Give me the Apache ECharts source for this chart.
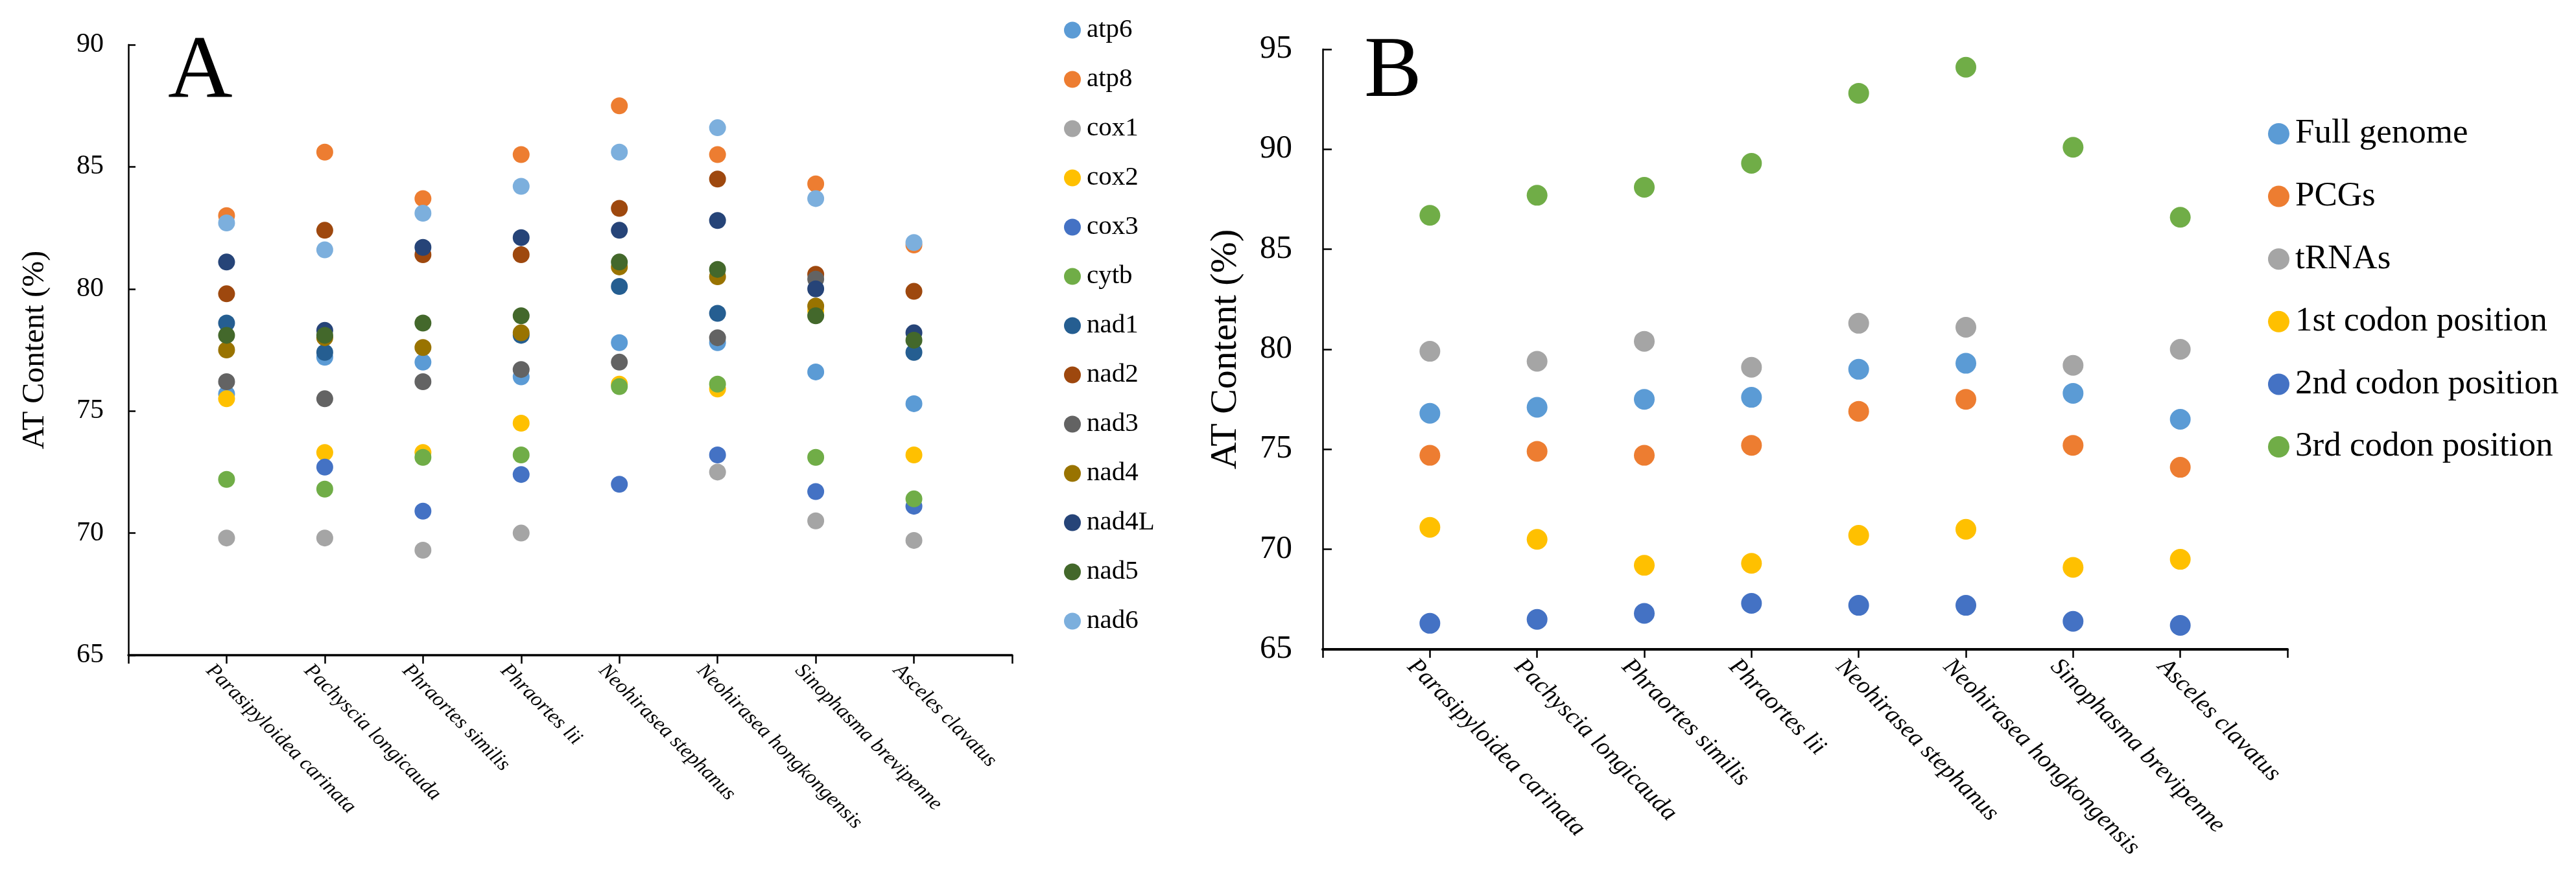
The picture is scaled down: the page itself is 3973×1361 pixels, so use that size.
<!DOCTYPE html>
<html>
<head>
<meta charset="utf-8">
<style>
html,body{margin:0;padding:0;background:#fff;}
#c{width:3973px;height:1361px;}
</style>
<script src="https://cdn.jsdelivr.net/npm/echarts@6/dist/echarts.min.js"></script>
</head>
<body>
<div id="c"></div>
<script>
// ---------- data ----------
const species = ['Parasipyloidea carinata','Pachyscia longicauda','Phraortes similis','Phraortes lii','Neohirasea stephanus','Neohirasea hongkongensis','Sinophasma brevipenne','Asceles clavatus'];

// Panel A: AT content of each gene (null = point not visible in the figure)
const genesA = ['atp6','atp8','cox1','cox2','cox3','cytb','nad1','nad2','nad3','nad4','nad4L','nad5','nad6'];
const atp6  = [75.7, 77.2, 77.0, 76.4, 77.8, 77.8, 76.6, 75.3];
const atp8  = [83.0, 85.6, 83.7, 85.5, 87.5, 85.5, 84.3, 81.8];
const cox1  = [69.8, 69.8, 69.3, 70.0, null, 72.5, 70.5, 69.7];
const cox2  = [75.5, 73.3, 73.3, 74.5, 76.1, 75.9, 79.1, 73.2];
const cox3  = [null, 72.7, 70.9, 72.4, 72.0, 73.2, 71.7, 71.1];
const cytb  = [72.2, 71.8, 73.1, 73.2, 76.0, 76.1, 73.1, 71.4];
const nad1  = [78.6, 77.4, null, 78.1, 80.1, 79.0, null, 77.4];
const nad2  = [79.8, 82.4, 81.4, 81.4, 83.3, 84.5, 80.6, 79.9];
const nad3  = [76.2, 75.5, 76.2, 76.7, 77.0, 78.0, 80.4, null];
const nad4  = [77.5, 78.0, 77.6, 78.2, 80.9, 80.5, 79.3, null];
const nad4L = [81.1, 78.3, 81.7, 82.1, 82.4, 82.8, 80.0, 78.2];
const nad5  = [78.1, 78.1, 78.6, 78.9, 81.1, 80.8, 78.9, 77.9];
const nad6  = [82.7, 81.6, 83.1, 84.2, 85.6, 86.6, 83.7, 81.9];
const valuesA = [atp6, atp8, cox1, cox2, cox3, cytb, nad1, nad2, nad3, nad4, nad4L, nad5, nad6];
const colorsA = ['#5B9BD5','#ED7D31','#A5A5A5','#FFC000','#4472C4','#70AD47','#255E91','#9E480E','#636363','#997300','#264478','#43682B','#7CAFDD'];

// Panel B: AT content of genome regions
const regionsB = ['Full genome','PCGs','tRNAs','1st codon position','2nd codon position','3rd codon position'];
const fullGenome = [76.8, 77.1, 77.5, 77.6, 79.0, 79.3, 77.8, 76.5];
const pcgs       = [74.7, 74.9, 74.7, 75.2, 76.9, 77.5, 75.2, 74.1];
const trnas      = [79.9, 79.4, 80.4, 79.1, 81.3, 81.1, 79.2, 80.0];
const codon1     = [71.1, 70.5, 69.2, 69.3, 70.7, 71.0, 69.1, 69.5];
const codon2     = [66.3, 66.5, 66.8, 67.3, 67.2, 67.2, 66.4, 66.2];
const codon3     = [86.7, 87.7, 88.1, 89.3, 92.8, 94.1, 90.1, 86.6];
const valuesB = [fullGenome, pcgs, trnas, codon1, codon2, codon3];
const colorsB = ['#5B9BD5','#ED7D31','#A5A5A5','#FFC000','#4472C4','#70AD47'];

const yTicksA = {min: 65, max: 90, interval: 5};
const yTicksB = {min: 65, max: 95, interval: 5};

// ---------- chart ----------
const FONT = 'Liberation Serif';
function toPoints(arr){
  const out = [];
  arr.forEach((v,i)=>{ if(v !== null) out.push([i+1, v]); });
  return out;
}
function xAxis(gridIndex, fontSize, lineW, margin, padTop){
  return {
    type:'value', gridIndex, min:0, max:species.length+1, interval:1,
    axisLine:{show:true, onZero:false, lineStyle:{color:'#000', width:lineW}},
    axisTick:{show:true, inside:false, length:13, lineStyle:{color:'#000', width:2.5}},
    splitLine:{show:false},
    axisLabel:{
      show:true, rotate:-45, margin:margin, padding:[padTop,0,0,0], fontFamily:FONT, fontStyle:'italic', fontSize,
      color:'#000', align:'left', verticalAlign:'top', showMinLabel:true, showMaxLabel:true,
      formatter:(v)=> (v>=1 && v<=species.length) ? species[v-1] : ''
    }
  };
}
function yAxis(gridIndex, t, fontSize, margin, nameSize, tickLen){
  return {
    type:'value', gridIndex, min:t.min, max:t.max, interval:t.interval,
    name:'AT Content (%)', nameLocation:'middle', nameRotate:90, nameGap:120,
    nameTextStyle:{fontFamily:FONT, fontSize:nameSize, color:'#000'},
    axisLine:{show:true, onZero:false, lineStyle:{color:'#000', width:2.5}},
    axisTick:{show:true, inside:true, length:tickLen, lineStyle:{color:'#000', width:2.5}},
    splitLine:{show:false},
    axisLabel:{fontFamily:FONT, fontSize, color:'#000', margin}
  };
}

const series = [];
genesA.forEach((g,i)=>{
  series.push({name:g, type:'scatter', xAxisIndex:0, yAxisIndex:0, symbol:'circle', symbolSize:26,
    itemStyle:{color:colorsA[i], opacity:1}, data:toPoints(valuesA[i]), animation:false});
});
regionsB.forEach((g,i)=>{
  series.push({name:g, type:'scatter', xAxisIndex:1, yAxisIndex:1, symbol:'circle', symbolSize:32,
    itemStyle:{color:colorsB[i], opacity:1}, data:toPoints(valuesB[i]), animation:false});
});

const option = {
  backgroundColor:'#fff',
  animation:false,
  title:[
    {text:'A', left:259, top:44, padding:0, textStyle:{fontFamily:FONT, fontSize:138, fontWeight:'normal', color:'#000'}},
    {text:'B', left:2104, top:47, padding:0, textStyle:{fontFamily:FONT, fontSize:133, fontWeight:'normal', color:'#000'}}
  ],
  grid:[
    {left:198, right:3973-1561, top:69, bottom:1361-1011, containLabel:false},
    {left:2040, right:3973-3528, top:76, bottom:1361-1002, containLabel:false}
  ],
  xAxis:[xAxis(0, 32, 3.5, -8, 22), xAxis(1, 38, 4, -8, 22)],
  yAxis:[yAxis(0, yTicksA, 42, 38, 48, 11), yAxis(1, yTicksB, 50, 47, 58, 14)],
  legend:[
    {data:genesA, orient:'vertical', left:1641, top:26, padding:0, icon:'circle',
     itemWidth:26, itemHeight:26, itemGap:35,
     textStyle:{fontFamily:FONT, fontSize:41, lineHeight:41, color:'#000', padding:[0,0,0,4]}},
    {data:regionsB, orient:'vertical', left:3498, top:180, padding:0, icon:'circle',
     itemWidth:33, itemHeight:33, itemGap:43.6,
     textStyle:{fontFamily:FONT, fontSize:53, lineHeight:53, color:'#000', padding:[0,0,0,4]}}
  ],
  series
};
const chart = echarts.init(document.getElementById('c'), null, {renderer:'canvas'});
chart.setOption(option);
</script>
</body>
</html>
